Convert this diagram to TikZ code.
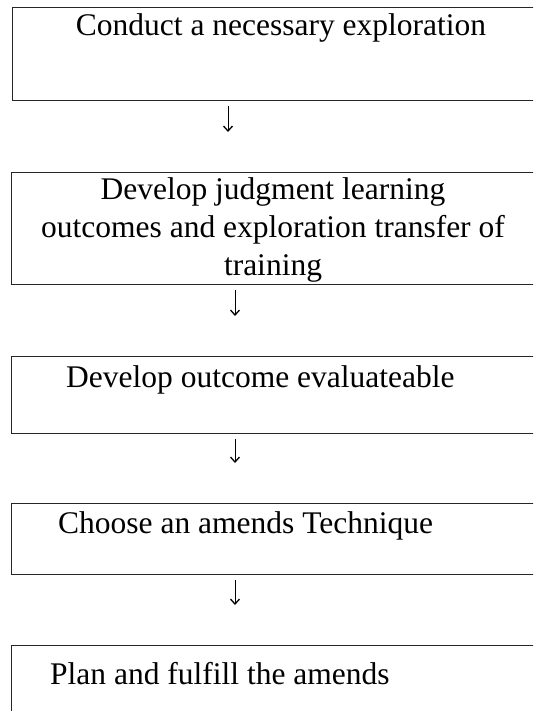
\documentclass[tikz,border=0pt]{standalone}
\usepackage{fontspec}
\setmainfont{Liberation Serif}
\usetikzlibrary{arrows.meta}

\tikzset{
  caja/.style={draw=black!85, line width=1pt, rectangle, inner sep=0pt,
    anchor=north west, minimum width=530pt},
  texto/.style={font=\fontsize{31.5}{38}\selectfont, inner sep=0pt},
  flecha/.style={line width=1pt,
    -{Straight Barb[length=5pt,width=9pt,line width=1.3pt]},
    shorten <=5pt, shorten >=40pt}
}

\begin{document}
\begin{tikzpicture}[x=1pt,y=1pt]
  \clip (0,0) rectangle (533,-711);

  % Cajas
  \node[caja, minimum height=93pt] (p1) at (12,-7) {};
  \node[caja, minimum height=112pt] (p2) at (11,-172) {};
  \node[caja, minimum height=77pt] (p3) at (11,-356) {};
  \node[caja, minimum height=71pt] (p4) at (11,-503) {};
  \node[caja, minimum height=90pt] (p5) at (11,-645) {};

  % Textos
  \node[texto, anchor=base] (t1) at (281,-36) {Conduct a necessary exploration};
  \node[texto, anchor=base, align=center] (t2) at (273,-275)
    {Develop judgment learning\\outcomes and exploration transfer of\\training};
  \node[texto, anchor=base west] (t3) at (66,-387) {Develop outcome evaluateable};
  \node[texto, anchor=base west] (t4) at (58,-533) {Choose an amends Technique};
  \node[texto, anchor=base west] (t5) at (50,-684) {Plan and fulfill the amends};

  % Flechas
  \coordinate (eje1) at (228,0);
  \coordinate (eje) at (235,0);
  \draw[flecha] (p1.south -| eje1) -- (p2.north -| eje1);
  \draw[flecha] (p2.south -| eje) -- (p3.north -| eje);
  \draw[flecha] (p3.south -| eje) -- (p4.north -| eje);
  \draw[flecha] (p4.south -| eje) -- (p5.north -| eje);
\end{tikzpicture}
\end{document}
